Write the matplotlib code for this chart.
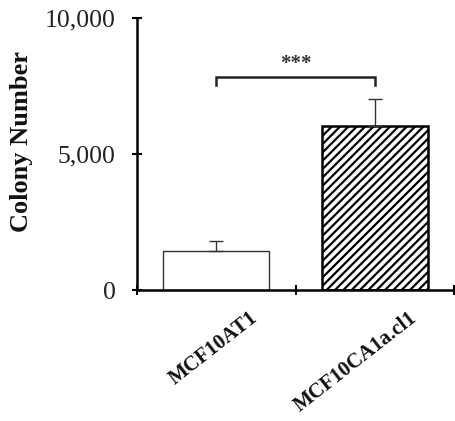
import matplotlib
matplotlib.use('Agg')
import matplotlib.pyplot as plt
from matplotlib.transforms import blended_transform_factory

cells = ['MCF10AT1', 'MCF10CA1a.cl1']
colonies = [1420, 6020]
errors = [370, 1000]
y_ticks = [0, 5000, 10000]
y_ticklabels = ['0', '5,000', '10,000']
sig_label = '***'

plt.rcParams['font.family'] = ['Liberation Serif', 'DejaVu Serif']
plt.rcParams['hatch.linewidth'] = 1.6

fig = plt.figure(figsize=(4.55, 4.21), dpi=100)
ax = fig.add_axes([0.301, 0.311, 0.697, 0.646])

x = [0, 1]
ax.bar(x[0], colonies[0], width=0.67, color='white', edgecolor='#333333', linewidth=1.0)
ax.bar(x[1], colonies[1], width=0.67, color='white', edgecolor='black', linewidth=1.8, hatch='////')
ax.errorbar(x, colonies, yerr=[[0, 0], errors], fmt='none', ecolor='#333333',
            elinewidth=1.0, capsize=4.7, capthick=1.0)

# significance bracket
ax.plot([0, 0, 1, 1], [7530, 7840, 7840, 7530], color='#222222', linewidth=1.8,
        solid_joinstyle='miter')
ax.text(0.5, 8330, sig_label, ha='center', va='center', fontsize=15, fontweight='bold',
        color='#333333')

ax.set_xlim(-0.5, 1.5)
ax.set_ylim(0, 10000)
ax.set_yticks(y_ticks)
ax.set_yticklabels(y_ticklabels, fontsize=18.5, color='#222222')
ax.set_xticks([-0.5, 0.5, 1.5])
ax.set_xticklabels([])
ax.tick_params(axis='both', direction='inout', length=7, width=1.5, colors='black')
ax.tick_params(axis='y', labelcolor='#222222', pad=12)

for s in ['top', 'right']:
    ax.spines[s].set_visible(False)
for s in ['left', 'bottom']:
    ax.spines[s].set_linewidth(1.8)
ax.spines['left'].set_bounds(0, 10000)

trans = blended_transform_factory(ax.transData, ax.transAxes)
for xi, lab in zip(x, cells):
    ax.text(xi + 0.21, -0.065, lab, transform=trans, rotation=38, rotation_mode='anchor',
            ha='right', va='top', fontsize=15, fontweight='bold', color='#111111')

fig.text(0.048, 1 - 141 / 421, 'Colony Number', rotation=90, ha='center', va='center',
         fontsize=19, fontweight='bold', color='#111111')

fig.savefig('out.png', dpi=100)
